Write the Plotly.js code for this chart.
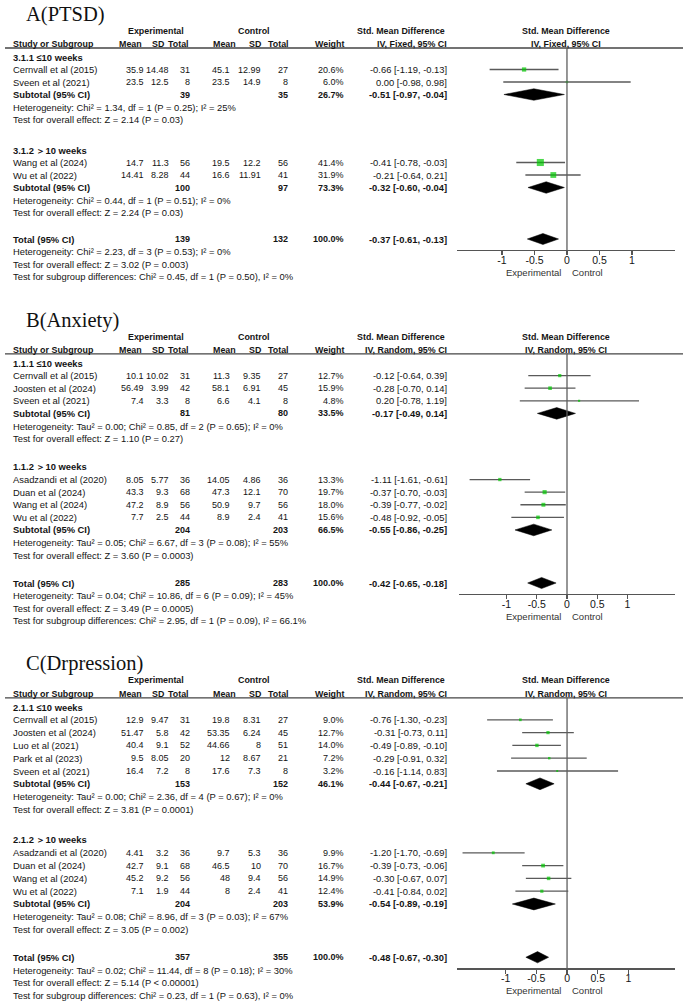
<!DOCTYPE html>
<html><head><meta charset="utf-8">
<script src="https://cdn.plot.ly/plotly-3.0.1.min.js"></script>
<style>html,body{margin:0;padding:0;background:#fff}#chart{width:685px;height:1002px}</style>
</head><body><div id="chart"></div>
<script>
// ================= DATA =================
// ---- Panel A: PTSD (IV, Fixed) ----
const A_title = "A(PTSD)";
const A_method = "IV, Fixed, 95% CI";
const A_groups = ["3.1.1 ≤10 weeks", "3.1.2 ＞10 weeks"];
const A_studyGroup = [0, 0, 1, 1];
const A_studies = ["Cernvall et al (2015)", "Sveen et al (2021)", "Wang et al (2024)", "Wu et al (2022)"];
const A_expMean = [35.9, 23.5, 14.7, 14.41];
const A_expSD = [14.48, 12.5, 11.3, 8.28];
const A_expN = [31, 8, 56, 44];
const A_ctlMean = [45.1, 23.5, 19.5, 16.6];
const A_ctlSD = [12.99, 14.9, 12.2, 11.91];
const A_ctlN = [27, 8, 56, 41];
const A_weight = [20.6, 6.0, 41.4, 31.9];
const A_smd = [-0.66, 0.00, -0.41, -0.21];
const A_lo = [-1.19, -0.98, -0.78, -0.64];
const A_hi = [-0.13, 0.98, -0.03, 0.21];
const A_subExpN = [39, 100];
const A_subCtlN = [35, 97];
const A_subWeight = [26.7, 73.3];
const A_subSmd = [-0.51, -0.32];
const A_subLo = [-0.97, -0.60];
const A_subHi = [-0.04, -0.04];
const A_subHet = ["Heterogeneity: Chi² = 1.34, df = 1 (P = 0.25); I² = 25%",
                  "Heterogeneity: Chi² = 0.44, df = 1 (P = 0.51); I² = 0%"];
const A_subTest = ["Test for overall effect: Z = 2.14 (P = 0.03)",
                   "Test for overall effect: Z = 2.24 (P = 0.03)"];
const A_total = {expN: 139, ctlN: 132, weight: 100.0, smd: -0.37, lo: -0.61, hi: -0.13};
const A_totHet = "Heterogeneity: Chi² = 2.23, df = 3 (P = 0.53); I² = 0%";
const A_totTest = "Test for overall effect: Z = 3.02 (P = 0.003)";
const A_subgroupTest = "Test for subgroup differences: Chi² = 0.45, df = 1 (P = 0.50), I² = 0%";

// ---- Panel B: Anxiety (IV, Random) ----
const B_title = "B(Anxiety)";
const B_method = "IV, Random, 95% CI";
const B_groups = ["1.1.1 ≤10 weeks", "1.1.2 ＞10 weeks"];
const B_studyGroup = [0, 0, 0, 1, 1, 1, 1];
const B_studies = ["Cernvall et al (2015)", "Joosten et al (2024)", "Sveen et al (2021)",
                   "Asadzandi et al (2020)", "Duan et al (2024)", "Wang et al (2024)", "Wu et al (2022)"];
const B_expMean = [10.1, 56.49, 7.4, 8.05, 43.3, 47.2, 7.7];
const B_expSD = [10.02, 3.99, 3.3, 5.77, 9.3, 8.9, 2.5];
const B_expN = [31, 42, 8, 36, 68, 56, 44];
const B_ctlMean = [11.3, 58.1, 6.6, 14.05, 47.3, 50.9, 8.9];
const B_ctlSD = [9.35, 6.91, 4.1, 4.86, 12.1, 9.7, 2.4];
const B_ctlN = [27, 45, 8, 36, 70, 56, 41];
const B_weight = [12.7, 15.9, 4.8, 13.3, 19.7, 18.0, 15.6];
const B_smd = [-0.12, -0.28, 0.20, -1.11, -0.37, -0.39, -0.48];
const B_lo = [-0.64, -0.70, -0.78, -1.61, -0.70, -0.77, -0.92];
const B_hi = [0.39, 0.14, 1.19, -0.61, -0.03, -0.02, -0.05];
const B_subExpN = [81, 204];
const B_subCtlN = [80, 203];
const B_subWeight = [33.5, 66.5];
const B_subSmd = [-0.17, -0.55];
const B_subLo = [-0.49, -0.86];
const B_subHi = [0.14, -0.25];
const B_subHet = ["Heterogeneity: Tau² = 0.00; Chi² = 0.85, df = 2 (P = 0.65); I² = 0%",
                  "Heterogeneity: Tau² = 0.05; Chi² = 6.67, df = 3 (P = 0.08); I² = 55%"];
const B_subTest = ["Test for overall effect: Z = 1.10 (P = 0.27)",
                   "Test for overall effect: Z = 3.60 (P = 0.0003)"];
const B_total = {expN: 285, ctlN: 283, weight: 100.0, smd: -0.42, lo: -0.65, hi: -0.18};
const B_totHet = "Heterogeneity: Tau² = 0.04; Chi² = 10.86, df = 6 (P = 0.09); I² = 45%";
const B_totTest = "Test for overall effect: Z = 3.49 (P = 0.0005)";
const B_subgroupTest = "Test for subgroup differences: Chi² = 2.95, df = 1 (P = 0.09), I² = 66.1%";

// ---- Panel C: Depression (IV, Random) ----
const C_title = "C(Drpression)";
const C_method = "IV, Random, 95% CI";
const C_groups = ["2.1.1 ≤10 weeks", "2.1.2 ＞10 weeks"];
const C_studyGroup = [0, 0, 0, 0, 0, 1, 1, 1, 1];
const C_studies = ["Cernvall et al (2015)", "Joosten et al (2024)", "Luo et al (2021)", "Park et al (2023)",
                   "Sveen et al (2021)", "Asadzandi et al (2020)", "Duan et al (2024)", "Wang et al (2024)", "Wu et al (2022)"];
const C_expMean = [12.9, 51.47, 40.4, 9.5, 16.4, 4.41, 42.7, 45.2, 7.1];
const C_expSD = [9.47, 5.8, 9.1, 8.05, 7.2, 3.2, 9.1, 9.2, 1.9];
const C_expN = [31, 42, 52, 20, 8, 36, 68, 56, 44];
const C_ctlMean = [19.8, 53.35, 44.66, 12, 17.6, 9.7, 46.5, 48, 8];
const C_ctlSD = [8.31, 6.24, 8, 8.67, 7.3, 5.3, 10, 9.4, 2.4];
const C_ctlN = [27, 45, 51, 21, 8, 36, 70, 56, 41];
const C_weight = [9.0, 12.7, 14.0, 7.2, 3.2, 9.9, 16.7, 14.9, 12.4];
const C_smd = [-0.76, -0.31, -0.49, -0.29, -0.16, -1.20, -0.39, -0.30, -0.41];
const C_lo = [-1.30, -0.73, -0.89, -0.91, -1.14, -1.70, -0.73, -0.67, -0.84];
const C_hi = [-0.23, 0.11, -0.10, 0.32, 0.83, -0.69, -0.06, 0.07, 0.02];
const C_subExpN = [153, 204];
const C_subCtlN = [152, 203];
const C_subWeight = [46.1, 53.9];
const C_subSmd = [-0.44, -0.54];
const C_subLo = [-0.67, -0.89];
const C_subHi = [-0.21, -0.19];
const C_subHet = ["Heterogeneity: Tau² = 0.00; Chi² = 2.36, df = 4 (P = 0.67); I² = 0%",
                  "Heterogeneity: Tau² = 0.08; Chi² = 8.96, df = 3 (P = 0.03); I² = 67%"];
const C_subTest = ["Test for overall effect: Z = 3.81 (P = 0.0001)",
                   "Test for overall effect: Z = 3.05 (P = 0.002)"];
const C_total = {expN: 357, ctlN: 355, weight: 100.0, smd: -0.48, lo: -0.67, hi: -0.30};
const C_totHet = "Heterogeneity: Tau² = 0.02; Chi² = 11.44, df = 8 (P = 0.18); I² = 30%";
const C_totTest = "Test for overall effect: Z = 5.14 (P < 0.00001)";
const C_subgroupTest = "Test for subgroup differences: Chi² = 0.23, df = 1 (P = 0.63), I² = 0%";

const tickVals = [-1, -0.5, 0, 0.5, 1];
const tickText = ["-1", "-0.5", "0", "0.5", "1"];

// ================= LAYOUT CONSTANTS =================
const W = 685, H = 1002;
const FONT = "Liberation Sans, Arial, sans-serif";
const SERIF = "Liberation Serif, Times New Roman, serif";
const TXT = "#141414";
const FS = 9.4, FS_NUM = 9.0, FS_HDR = 8.9;
const colRight = [145, 170, 191, 231, 262, 289, 345, 448];
const hdrRight = [143, 166, 190, 237, 263, 290, 345, 448];
const studyLeft = 12, titleLeft = 25;
const expHdrCenter = 156, ctlHdrCenter = 254, forestHdrCenter = 566;

const panels = [
  {title: A_title, method: A_method, groups: A_groups, g: A_studyGroup, studies: A_studies,
   expMean: A_expMean, expSD: A_expSD, expN: A_expN, ctlMean: A_ctlMean, ctlSD: A_ctlSD, ctlN: A_ctlN,
   weight: A_weight, smd: A_smd, lo: A_lo, hi: A_hi,
   subExpN: A_subExpN, subCtlN: A_subCtlN, subWeight: A_subWeight, subSmd: A_subSmd, subLo: A_subLo, subHi: A_subHi,
   subHet: A_subHet, subTest: A_subTest, total: A_total, totHet: A_totHet, totTest: A_totTest, sgTest: A_subgroupTest,
   p0: 57, s: 12.5, gapGroup: 1.44, gapTotal: 1.12, pt: 0, pb: 292, xDom: [457, 675], xRange: [-1.692, 1.662]},
  {title: B_title, method: B_method, groups: B_groups, g: B_studyGroup, studies: B_studies,
   expMean: B_expMean, expSD: B_expSD, expN: B_expN, ctlMean: B_ctlMean, ctlSD: B_ctlSD, ctlN: B_ctlN,
   weight: B_weight, smd: B_smd, lo: B_lo, hi: B_hi,
   subExpN: B_subExpN, subCtlN: B_subCtlN, subWeight: B_subWeight, subSmd: B_subSmd, subLo: B_subLo, subHi: B_subHi,
   subHet: B_subHet, subTest: B_subTest, total: B_total, totHet: B_totHet, totTest: B_totTest, sgTest: B_subgroupTest,
   p0: 363, s: 12.6, gapGroup: 1.25, gapTotal: 1.21, pt: 296, pb: 640, xDom: [459, 675], xRange: [-1.785, 1.785]},
  {title: C_title, method: C_method, groups: C_groups, g: C_studyGroup, studies: C_studies,
   expMean: C_expMean, expSD: C_expSD, expN: C_expN, ctlMean: C_ctlMean, ctlSD: C_ctlSD, ctlN: C_ctlN,
   weight: C_weight, smd: C_smd, lo: C_lo, hi: C_hi,
   subExpN: C_subExpN, subCtlN: C_subCtlN, subWeight: C_subWeight, subSmd: C_subSmd, subLo: C_subLo, subHi: C_subHi,
   subHet: C_subHet, subTest: C_subTest, total: C_total, totHet: C_totHet, totTest: C_totTest, sgTest: C_subgroupTest,
   p0: 707, s: 12.8, gapGroup: 1.39, gapTotal: 1.16, pt: 642, pb: 1002, xDom: [457, 675], xRange: [-1.79, 1.756]}
];

// ================= BUILD =================
const traces = [], annotations = [], shapes = [];
const layout = {
  width: W, height: H, margin: {l: 0, r: 0, t: 0, b: 0},
  paper_bgcolor: "#fff", plot_bgcolor: "rgba(0,0,0,0)", showlegend: false,
  font: {family: FONT, size: FS, color: TXT}
};

function fmt2(v) { return v.toFixed(2); }
function ciStr(e, l, h) { return fmt2(e) + " [" + fmt2(l) + ", " + fmt2(h) + "]"; }
function bold(t) { return "<b>" + t + "</b>"; }

panels.forEach((P, idx) => {
  const k = idx + 1;
  const xa = k === 1 ? "x" : "x" + k, ya = k === 1 ? "y" : "y" + k;
  const xKey = k === 1 ? "xaxis" : "xaxis" + k, yKey = k === 1 ? "yaxis" : "yaxis" + k;
  const rowAt = pix => (pix - P.p0) / P.s;
  const paperY = row => 1 - (P.p0 + row * P.s) / H;

  // row layout
  let r = 0;
  const groupRow = [], studyRow = [], subRow = [], hetRow = [], testRow = [];
  P.groups.forEach((gname, gi) => {
    if (gi > 0) r += 1 + P.gapGroup;
    groupRow.push(r);
    P.studies.forEach((s, si) => { if (P.g[si] === gi) { r += 1; studyRow[si] = r; } });
    r += 1; subRow.push(r);
    r += 1; hetRow.push(r);
    r += 1; testRow.push(r);
  });
  const totalRow = r + 1 + P.gapTotal;
  const axisRow = totalRow + 11 / P.s;
  const lineRow = -0.72, hdr1Row = -2.1, hdr2Row = -1.05, titleRow = -3.4;

  layout[yKey] = {domain: [1 - P.pb / H, 1 - P.pt / H], range: [rowAt(P.pb), rowAt(P.pt)],
                  visible: false, fixedrange: true, anchor: xa};
  layout[xKey] = {domain: [P.xDom[0] / W, P.xDom[1] / W], range: P.xRange, anchor: "free",
                  position: paperY(axisRow), showline: true, linecolor: "#555", linewidth: 1.3,
                  ticks: "outside", ticklen: 4, tickwidth: 1.3, tickcolor: "#555",
                  tickvals: tickVals, ticktext: tickText, tickfont: {family: FONT, size: 10.5, color: TXT},
                  showgrid: false, zeroline: false, fixedrange: true, ticklabelstandoff: -4};

  const A = (text, xpx, row, anchor, extra) => {
    annotations.push(Object.assign({text: text, xref: "paper", x: xpx / W, yref: ya, y: row,
      xanchor: anchor, yanchor: "middle", showarrow: false, borderpad: 0,
      font: {family: FONT, size: FS, color: TXT}}, extra || {}));
  };
  const NUM = {font: {family: FONT, size: FS_NUM, color: TXT}};
  const HDR = {font: {family: FONT, size: FS_HDR, color: TXT}};

  // title
  A(P.title, titleLeft, titleRow, "left", {font: {family: SERIF, size: 20.5, color: "#111"}});
  // headers
  A(bold("Experimental"), expHdrCenter, hdr1Row, "center", HDR);
  A(bold("Control"), ctlHdrCenter, hdr1Row, "center", HDR);
  A(bold("Std. Mean Difference"), hdrRight[7] - 2, hdr1Row, "right", HDR);
  A(bold("Std. Mean Difference"), forestHdrCenter, hdr1Row, "center", HDR);
  A(bold("Study or Subgroup"), studyLeft, hdr2Row, "left", HDR);
  ["Mean", "SD", "Total", "Mean", "SD", "Total", "Weight", P.method].forEach((h, i) => A(bold(h), hdrRight[i], hdr2Row, "right", HDR));
  A(bold(P.method), forestHdrCenter, hdr2Row, "center", HDR);

  shapes.push({type: "line", xref: "paper", x0: 5 / W, x1: 683 / W, yref: ya, y0: lineRow, y1: lineRow,
               line: {color: "#444", width: 1.3}});
  shapes.push({type: "line", xref: xa, x0: 0, x1: 0, yref: ya, y0: lineRow, y1: axisRow,
               line: {color: "#5e5e5e", width: 1.3}});

  // groups
  const ciX = [], ciY = [], mX = [], mY = [], mS = [];
  P.groups.forEach((gname, gi) => {
    A(bold(gname), studyLeft, groupRow[gi], "left");
    P.studies.forEach((s, si) => {
      if (P.g[si] !== gi) return;
      const rr = studyRow[si];
      A(s, studyLeft, rr, "left");
      const cells = [String(P.expMean[si]), String(P.expSD[si]), String(P.expN[si]),
                     String(P.ctlMean[si]), String(P.ctlSD[si]), String(P.ctlN[si]),
                     P.weight[si].toFixed(1) + "%", ciStr(P.smd[si], P.lo[si], P.hi[si])];
      cells.forEach((c, ci) => A(c, colRight[ci], rr, "right", ci < 7 ? NUM : undefined));
      ciX.push(P.lo[si], P.hi[si], null); ciY.push(rr, rr, null);
      mX.push(P.smd[si]); mY.push(rr); mS.push(1.5 + 0.135 * P.weight[si]);
    });
    const sr = subRow[gi];
    A(bold("Subtotal (95% CI)"), studyLeft, sr, "left");
    A(bold(String(P.subExpN[gi])), colRight[2], sr, "right", NUM);
    A(bold(String(P.subCtlN[gi])), colRight[5], sr, "right", NUM);
    A(bold(P.subWeight[gi].toFixed(1) + "%"), colRight[6], sr, "right", NUM);
    A(bold(ciStr(P.subSmd[gi], P.subLo[gi], P.subHi[gi])), colRight[7], sr, "right");
    A(P.subHet[gi], studyLeft, hetRow[gi], "left");
    A(P.subTest[gi], studyLeft, testRow[gi], "left");
    const hh = 0.46;
    traces.push({type: "scatter", mode: "lines", xaxis: xa, yaxis: ya, fill: "toself", fillcolor: "#000",
      line: {color: "#000", width: 0.5}, hoverinfo: "skip",
      x: [P.subLo[gi], P.subSmd[gi], P.subHi[gi], P.subSmd[gi], P.subLo[gi]],
      y: [sr, sr - hh, sr, sr + hh, sr]});
  });
  // total
  const T = P.total;
  A(bold("Total (95% CI)"), studyLeft, totalRow, "left");
  A(bold(String(T.expN)), colRight[2], totalRow, "right", NUM);
  A(bold(String(T.ctlN)), colRight[5], totalRow, "right", NUM);
  A(bold(T.weight.toFixed(1) + "%"), colRight[6], totalRow, "right", NUM);
  A(bold(ciStr(T.smd, T.lo, T.hi)), colRight[7], totalRow, "right");
  A(P.totHet, studyLeft, totalRow + 1, "left");
  A(P.totTest, studyLeft, totalRow + 2, "left");
  A(P.sgTest, studyLeft, totalRow + 3, "left");
  traces.push({type: "scatter", mode: "lines", xaxis: xa, yaxis: ya, fill: "toself", fillcolor: "#000",
    line: {color: "#000", width: 0.5}, hoverinfo: "skip",
    x: [T.lo, T.smd, T.hi, T.smd, T.lo],
    y: [totalRow, totalRow - 0.44, totalRow, totalRow + 0.44, totalRow]});

  traces.push({type: "scatter", mode: "lines", xaxis: xa, yaxis: ya, x: ciX, y: ciY,
    line: {color: "#5a5a5a", width: 1.3}, hoverinfo: "skip", connectgaps: false});
  traces.push({type: "scatter", mode: "markers", xaxis: xa, yaxis: ya, x: mX, y: mY,
    marker: {symbol: "square", size: mS, color: "#00c800", line: {width: 0}}, hoverinfo: "skip"});

  // direction labels under axis
  const labRow = axisRow + 22 / P.s;
  annotations.push({text: "Experimental", xref: xa, x: 0, xshift: -5, yref: ya, y: labRow, xanchor: "right",
    yanchor: "middle", showarrow: false, borderpad: 0, font: {family: FONT, size: 9.5, color: "#333"}});
  annotations.push({text: "Control", xref: xa, x: 0, xshift: 4, yref: ya, y: labRow, xanchor: "left",
    yanchor: "middle", showarrow: false, borderpad: 0, font: {family: FONT, size: 9.5, color: "#333"}});
});

layout.annotations = annotations;
layout.shapes = shapes;
Plotly.newPlot("chart", traces, layout, {displayModeBar: false, staticPlot: true});
</script></body></html>
